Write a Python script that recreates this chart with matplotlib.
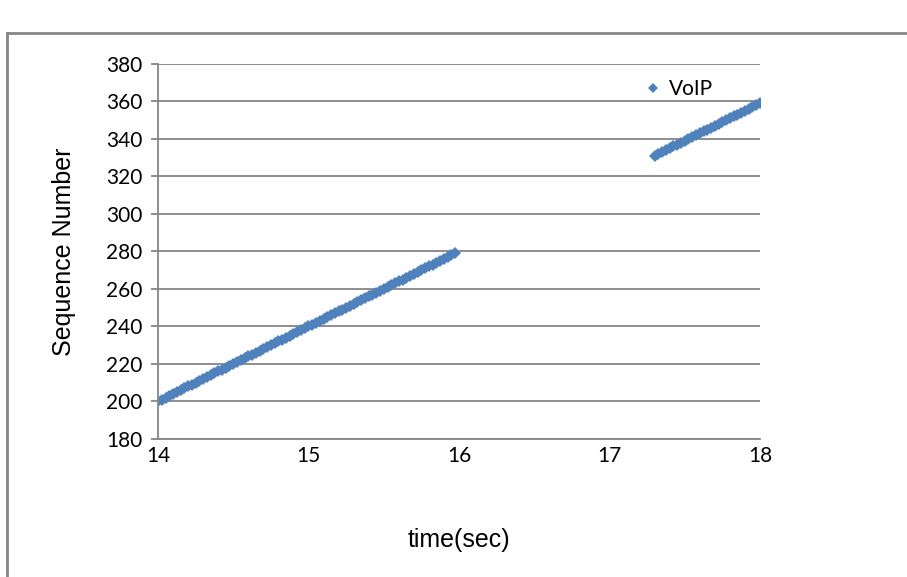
import matplotlib
matplotlib.use("Agg")
import matplotlib.pyplot as plt
from matplotlib.lines import Line2D

# VoIP packets: arrival time (sec) and sequence number
time_a = [14.000, 14.025, 14.050, 14.075, 14.100, 14.125, 14.150, 14.175,
          14.200, 14.225, 14.250, 14.275, 14.300, 14.325, 14.350, 14.375,
          14.400, 14.425, 14.450, 14.475, 14.500, 14.525, 14.550, 14.575,
          14.600, 14.625, 14.650, 14.675, 14.700, 14.725, 14.750, 14.775,
          14.800, 14.825, 14.850, 14.875, 14.900, 14.925, 14.950, 14.975,
          15.000, 15.025, 15.050, 15.075, 15.100, 15.125, 15.150, 15.175,
          15.200, 15.225, 15.250, 15.275, 15.300, 15.325, 15.350, 15.375,
          15.400, 15.425, 15.450, 15.475, 15.500, 15.525, 15.550, 15.575,
          15.600, 15.625, 15.650, 15.675, 15.700, 15.725, 15.750, 15.775,
          15.800, 15.825, 15.850, 15.875, 15.900, 15.925, 15.950, 15.975]
seq_a = [200, 201, 202, 203, 204, 205, 206, 207,
         208, 209, 210, 211, 212, 213, 214, 215,
         216, 217, 218, 219, 220, 221, 222, 223,
         224, 225, 226, 227, 228, 229, 230, 231,
         232, 233, 234, 235, 236, 237, 238, 239,
         240, 241, 242, 243, 244, 245, 246, 247,
         248, 249, 250, 251, 252, 253, 254, 255,
         256, 257, 258, 259, 260, 261, 262, 263,
         264, 265, 266, 267, 268, 269, 270, 271,
         272, 273, 274, 275, 276, 277, 278, 279]

time_b = [17.300, 17.325, 17.350, 17.375, 17.400, 17.425, 17.450, 17.475,
          17.500, 17.525, 17.550, 17.575, 17.600, 17.625, 17.650, 17.675,
          17.700, 17.725, 17.750, 17.775, 17.800, 17.825, 17.850, 17.875,
          17.900, 17.925, 17.950, 17.975, 18.000]
seq_b = [331, 332, 333, 334, 335, 336, 337, 338,
         339, 340, 341, 342, 343, 344, 345, 346,
         347, 348, 349, 350, 351, 352, 353, 354,
         355, 356, 357, 358, 359]

x_ticks = [14, 15, 16, 17, 18]
y_ticks = [180, 200, 220, 240, 260, 280, 300, 320, 340, 360, 380]

blue = '#4F81BD'
grey = '#868686'

fig = plt.figure(figsize=(9.07, 5.77), dpi=100)
ax = fig.add_axes([0.1742, 0.2392, 0.6637, 0.650])

ax.plot(time_a + time_b, seq_a + seq_b, linestyle='none', marker='D',
        markersize=6.2, color=blue, markeredgewidth=0, label='VoIP')

ax.set_xlim(14, 18)
ax.set_ylim(180, 380)
ax.set_xticks(x_ticks)
ax.set_yticks(y_ticks)
ax.grid(axis='y', color=grey, linewidth=1.3)
ax.set_axisbelow(True)

for s in ['top', 'right']:
    ax.spines[s].set_visible(False)
for s in ['left', 'bottom']:
    ax.spines[s].set_color(grey)
    ax.spines[s].set_linewidth(1.3)

ax.tick_params(axis='y', direction='out', length=5, width=1.3, color=grey,
               labelsize=15, pad=6)
ax.tick_params(axis='x', length=0, labelsize=15, pad=5)
for lab in ax.get_xticklabels() + ax.get_yticklabels():
    lab.set_family('Lato')

ax.set_xlabel('time(sec)', fontsize=18, family='Liberation Sans', labelpad=45)
ax.set_ylabel('Sequence Number', fontsize=18, family='Liberation Sans', labelpad=22)

leg = ax.legend(loc='upper left', bbox_to_anchor=(0.78, 1.01), frameon=False,
                prop={'family': 'Lato', 'size': 15}, handlelength=0.6,
                handletextpad=0.5, markerscale=0.8)

# outer chart frame (top and left edges visible)
fig.add_artist(Line2D([7 / 907, 1.0], [1 - 33 / 577, 1 - 33 / 577],
                      color=grey, linewidth=2))
fig.add_artist(Line2D([7 / 907, 7 / 907], [0, 1 - 33 / 577],
                      color=grey, linewidth=2))

fig.savefig('out.png', dpi=100)
